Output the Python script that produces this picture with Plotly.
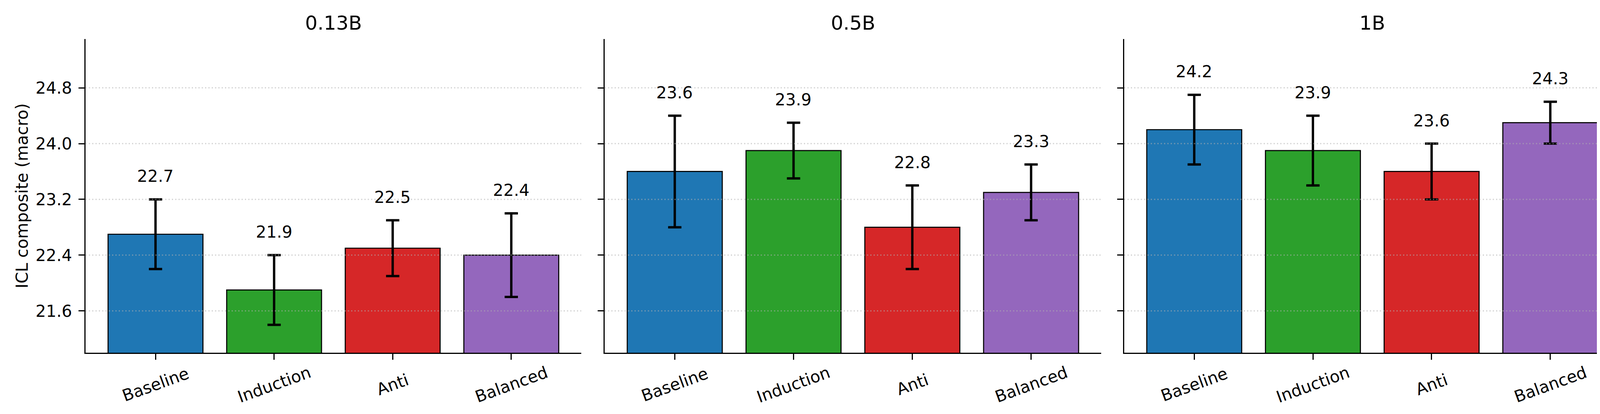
import plotly.graph_objects as go

# ---- data ----
panels = ["0.13B", "0.5B", "1B"]
categories = ["Baseline", "Induction", "Anti", "Balanced"]
values_013b = [22.7, 21.9, 22.5, 22.4]
errors_013b = [0.5, 0.5, 0.4, 0.6]
values_05b = [23.6, 23.9, 22.8, 23.3]
errors_05b = [0.8, 0.4, 0.6, 0.4]
values_1b = [24.2, 23.9, 23.6, 24.3]
errors_1b = [0.5, 0.5, 0.4, 0.3]
y_ticks = [21.6, 22.4, 23.2, 24.0, 24.8]
y_label = "ICL composite (macro)"

colors = ["#1f77b4", "#2ca02c", "#d62728", "#9467bd"]
values = [values_013b, values_05b, values_1b]
errors = [errors_013b, errors_05b, errors_1b]

W, H = 4170, 1061
x_domains = [[211 / W, 1480 / W], [1540 / W, 2811 / W], [2870 / W, 4140 / W]]
y_domain = [1 - 896 / H, 1 - 92 / H]
FONT = "DejaVu Sans"
FS = 42

fig = go.Figure()
annotations = []
shapes = []

for i, (name, vals, errs) in enumerate(zip(panels, values, errors)):
    n = "" if i == 0 else str(i + 1)
    xs = list(range(len(categories)))
    fig.add_trace(go.Bar(
        x=xs, y=vals, width=0.8,
        marker=dict(color=colors, line=dict(color="black", width=2.7)),
        error_y=dict(type="data", array=errs, visible=True,
                     color="black", thickness=6, width=17),
        xaxis="x" + n, yaxis="y" + n, showlegend=False, hoverinfo="skip",
    ))
    xa = dict(domain=x_domains[i], range=[-0.59, 3.59], anchor="y" + n,
              tickvals=xs, showticklabels=False, ticks="outside", ticklen=15,
              tickwidth=3, tickcolor="black", showline=True, linecolor="black",
              linewidth=3, showgrid=False, zeroline=False, fixedrange=True)
    ya = dict(domain=y_domain, range=[21.0, 25.5], anchor="x" + n,
              tickvals=y_ticks, ticktext=[f"{t:.1f}" for t in y_ticks],
              showticklabels=(i == 0), ticks="outside", ticklen=15,
              tickwidth=3, tickcolor="black", showline=True, linecolor="black",
              linewidth=3, showgrid=False, zeroline=False,
              tickfont=dict(family=FONT, size=FS, color="black"),
              ticklabelstandoff=8, fixedrange=True)
    fig.update_layout(**{"xaxis" + n: xa, "yaxis" + n: ya})

    # gridlines drawn above bars
    for t in y_ticks:
        shapes.append(dict(type="line", xref=f"x{n} domain", yref="y" + n,
                           x0=0, x1=1, y0=t, y1=t, layer="above",
                           line=dict(color="rgba(176,176,176,0.6)", width=3,
                                     dash="3px,5.5px")))

    # panel title
    annotations.append(dict(text=name, xref=f"x{n} domain", yref="paper",
                            x=0.5, y=1 - 51 / H, xanchor="center", yanchor="middle",
                            showarrow=False,
                            font=dict(family=FONT, size=50, color="black")))
    # value labels
    for xi, v, e in zip(xs, vals, errs):
        annotations.append(dict(text=f"{v:.1f}", xref="x" + n, yref="y" + n,
                                x=xi, y=v + e + 0.33, xanchor="center",
                                yanchor="middle", showarrow=False,
                                font=dict(family=FONT, size=FS, color="black")))
    # rotated category labels
    for xi, c in zip(xs, categories):
        annotations.append(dict(text=c, xref="x" + n, yref="paper",
                                x=xi, y=1 - 977 / H, xanchor="center",
                                yanchor="middle", textangle=-20, showarrow=False,
                                font=dict(family=FONT, size=FS, color="black")))

annotations.append(dict(text=y_label, xref="paper", yref="paper",
                        x=48 / W, y=(y_domain[0] + y_domain[1]) / 2,
                        xanchor="center", yanchor="middle", textangle=-90,
                        showarrow=False,
                        font=dict(family=FONT, size=FS, color="black")))

fig.update_layout(
    width=W, height=H,
    margin=dict(l=0, r=0, t=0, b=0),
    paper_bgcolor="white", plot_bgcolor="white",
    annotations=annotations, shapes=shapes,
    font=dict(family=FONT, size=FS, color="black"),
    showlegend=False,
)

fig.write_html("out.html")
